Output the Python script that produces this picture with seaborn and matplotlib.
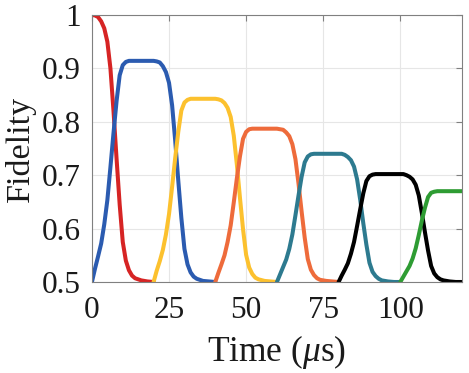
"""
plot.py

Fidelity of successive state transfers versus time.
Saves out.png (469x373 px).
"""

# =============================================================================
# IMPORTS
# =============================================================================

import pandas as pd

import matplotlib
matplotlib.use("Agg")
import matplotlib.pyplot as plt
import seaborn as sns

# =============================================================================
# DATA
# =============================================================================

red_time = [0, 1, 2, 3, 4, 5, 6, 7, 8, 9, 10, 11, 12, 13, 14, 16, 18, 20]
red_fid = [1.000, 0.999, 0.996, 0.988, 0.975, 0.950, 0.900, 0.820, 0.730,
           0.645, 0.575, 0.540, 0.522, 0.512, 0.507, 0.503, 0.501, 0.500]

blue_time = [0, 1, 2, 3, 4, 5, 6, 7, 8, 9, 10, 11, 12, 16, 20,
             21, 22, 23, 24, 25, 26, 27, 28, 29, 30, 31, 32, 33, 34,
             36, 38, 40]
blue_fid = [0.500, 0.525, 0.548, 0.572, 0.608, 0.653, 0.715, 0.779, 0.839,
            0.887, 0.906, 0.912, 0.914, 0.914, 0.914,
            0.913, 0.911, 0.904, 0.893, 0.873, 0.831, 0.765, 0.690, 0.620,
            0.562, 0.533, 0.518, 0.510, 0.506, 0.502, 0.501, 0.500]

yellow_time = [20, 21, 22, 23, 24, 25, 26, 27, 28, 29, 30, 31, 32, 36, 40,
               41, 42, 43, 44, 45, 46, 47, 48, 49, 50, 51, 52, 53, 54,
               56, 58, 60]
yellow_fid = [0.500, 0.521, 0.539, 0.560, 0.589, 0.627, 0.678, 0.732, 0.781,
              0.821, 0.836, 0.841, 0.843, 0.843, 0.843,
              0.842, 0.840, 0.835, 0.826, 0.809, 0.774, 0.720, 0.658, 0.599,
              0.551, 0.527, 0.515, 0.508, 0.505, 0.502, 0.501, 0.500]

orange_time = [40, 41, 42, 43, 44, 45, 46, 47, 48, 49, 50, 51, 52, 56, 60,
               61, 62, 63, 64, 65, 66, 67, 68, 69, 70, 71, 72, 73, 74,
               76, 78, 80]
orange_fid = [0.500, 0.517, 0.533, 0.550, 0.575, 0.606, 0.649, 0.694, 0.735,
              0.768, 0.781, 0.786, 0.787, 0.787, 0.787,
              0.786, 0.785, 0.780, 0.773, 0.758, 0.730, 0.684, 0.632, 0.583,
              0.543, 0.523, 0.513, 0.507, 0.504, 0.502, 0.501, 0.500]

teal_time = [60, 61, 62, 63, 64, 65, 66, 67, 68, 69, 70, 71, 72, 76, 80,
             81, 82, 83, 84, 85, 86, 87, 88, 89, 90, 91, 92, 93, 94,
             96, 98, 100]
teal_fid = [0.500, 0.514, 0.528, 0.542, 0.562, 0.589, 0.625, 0.662, 0.697,
            0.724, 0.735, 0.739, 0.740, 0.740, 0.740,
            0.740, 0.738, 0.734, 0.728, 0.716, 0.692, 0.654, 0.610, 0.570,
            0.536, 0.519, 0.511, 0.506, 0.503, 0.501, 0.500, 0.500]

black_time = [80, 81, 82, 83, 84, 85, 86, 87, 88, 89, 90, 91, 92, 96, 100,
              101, 102, 103, 104, 105, 106, 107, 108, 109, 110, 111, 112,
              113, 114, 116, 118, 120]
black_fid = [0.500, 0.512, 0.523, 0.535, 0.553, 0.575, 0.605, 0.636, 0.666,
             0.689, 0.698, 0.701, 0.702, 0.702, 0.702,
             0.702, 0.700, 0.697, 0.692, 0.682, 0.662, 0.629, 0.593, 0.559,
             0.530, 0.516, 0.509, 0.505, 0.503, 0.501, 0.500, 0.500]

green_time = [100, 101, 102, 103, 104, 105, 106, 107, 108, 109, 110, 111,
              112, 116, 120]
green_fid = [0.500, 0.510, 0.520, 0.530, 0.544, 0.563, 0.588, 0.615, 0.639,
             0.659, 0.667, 0.669, 0.670, 0.670, 0.670]

curve_names = ["red", "blue", "yellow", "orange", "teal", "black", "green"]
curve_colors = ["#D62424", "#2B5BB0", "#FCC12E", "#EE6B3B", "#2D7A8F",
                "#000000", "#2E9C33"]

x_ticks = [0, 25, 50, 75, 100]
y_ticks = [0.5, 0.6, 0.7, 0.8, 0.9, 1.0]
y_tick_labels = ["0.5", "0.6", "0.7", "0.8", "0.9", "1"]

# =============================================================================
# LONG FORM TABLE
# =============================================================================

series = [
    (red_time, red_fid),
    (blue_time, blue_fid),
    (yellow_time, yellow_fid),
    (orange_time, orange_fid),
    (teal_time, teal_fid),
    (black_time, black_fid),
    (green_time, green_fid),
]

frames = []
for name, (t, f) in zip(curve_names, series):
    frames.append(pd.DataFrame({"time": t, "fidelity": f, "curve": name}))
df = pd.concat(frames, ignore_index=True)

# =============================================================================
# STYLE
# =============================================================================

sns.set_style("white")
plt.rcParams["font.family"] = ["Liberation Serif", "DejaVu Serif"]
plt.rcParams["mathtext.fontset"] = "custom"
plt.rcParams["mathtext.rm"] = "Liberation Serif"
plt.rcParams["mathtext.it"] = "Liberation Serif:italic"

TEXT_COLOR = "#1a1a1a"
SPINE_COLOR = "#808080"

# =============================================================================
# PLOT
# =============================================================================

fig = plt.figure(figsize=(4.69, 3.73), dpi=100)
ax = fig.add_axes([0.196, 0.244, 0.789, 0.716])

sns.lineplot(
    data=df,
    x="time",
    y="fidelity",
    hue="curve",
    hue_order=curve_names,
    palette=curve_colors,
    estimator=None,
    sort=False,
    linewidth=2.9,
    legend=False,
    ax=ax,
)

for line in ax.get_lines():
    line.set_solid_joinstyle("round")
    line.set_solid_capstyle("round")

ax.set_xlim(0, 120)
ax.set_ylim(0.5, 1.0)
ax.set_xticks(x_ticks)
ax.set_xticklabels([str(v) for v in x_ticks])
ax.set_yticks(y_ticks)
ax.set_yticklabels(y_tick_labels)

ax.grid(True, color="#E6E6E6", linewidth=0.8)
ax.set_axisbelow(True)

for side in ["top", "right", "bottom", "left"]:
    ax.spines[side].set_visible(True)
    ax.spines[side].set_color(SPINE_COLOR)
    ax.spines[side].set_linewidth(0.8)

ax.tick_params(
    axis="both",
    which="both",
    direction="in",
    top=True,
    right=True,
    length=4,
    width=0.8,
    color=SPINE_COLOR,
    labelsize=22.5,
    labelcolor=TEXT_COLOR,
)
ax.tick_params(axis="x", pad=10)
ax.tick_params(axis="y", pad=8)

ax.set_xlabel(r"Time ($\mu$s)", fontsize=25.5, color=TEXT_COLOR, labelpad=6)
ax.set_ylabel("Fidelity", fontsize=24.5, color=TEXT_COLOR, labelpad=4)

fig.savefig("out.png", dpi=100)
plt.close(fig)
